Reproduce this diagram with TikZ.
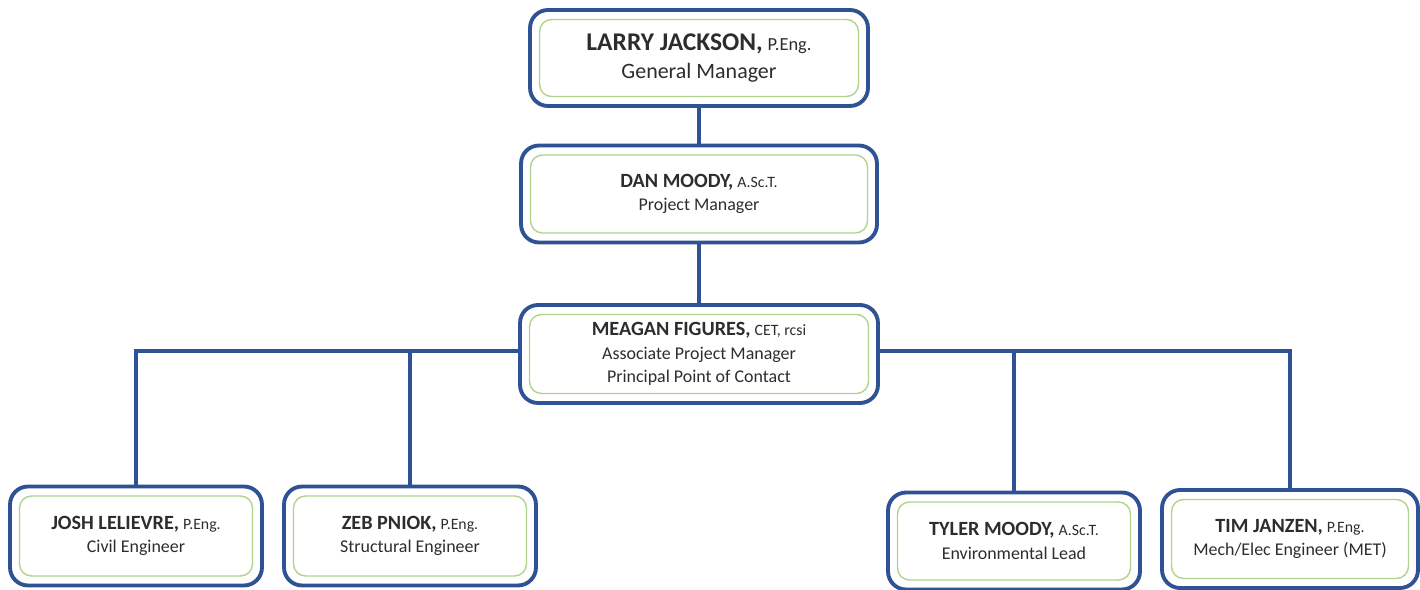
\documentclass[tikz,border=0pt]{standalone}
\usepackage{fontspec}
\setmainfont{Carlito}
\usepackage{tikz}
\usetikzlibrary{calc, positioning}
\definecolor{frameblue}{RGB}{47,82,148}
\definecolor{innergreen}{RGB}{176,212,140}
\definecolor{textgray}{RGB}{45,45,45}
\tikzset{
    staff/.style ={rectangle, rounded corners=0.36cm, draw=frameblue,
        line width=2.2pt, fill=white, text=textgray, align=center,
        font=\fontsize{10.2}{13.5}\selectfont,
        path picture={
            \draw[innergreen, line width=0.8pt, rounded corners=0.24cm]
                ($(path picture bounding box.south west)+(0.19cm,0.19cm)$)
                rectangle
                ($(path picture bounding box.north east)-(0.19cm,0.19cm)$);
        }},
    link/.style = {draw=frameblue, line width=2.2pt}
    }
\newcommand{\who}[2]{{\fontsize{11.5}{13.5}\selectfont\bfseries #1}
    {\fontsize{9}{13.5}\selectfont #2}}

\begin{document}
\begin{tikzpicture}[
      x = 0.02cm, y = -0.02cm % one unit = one pixel
    ]
    \useasboundingbox (0,0) rectangle (1420,590);

    \node[staff, minimum width=6.76cm, minimum height=1.92cm,
          font=\fontsize{12.5}{15.5}\selectfont] (larry) at (699, 58)
        {{\fontsize{14.5}{15.5}\selectfont\bfseries LARRY JACKSON,}
         {\fontsize{10.5}{15.5}\selectfont P.Eng.}\\General Manager};
    \node[staff, minimum width=7.12cm, minimum height=1.94cm] (dan) at (699, 194)
        {\who{DAN MOODY,}{A.Sc.T.}\\Project Manager};
    \node[staff, minimum width=7.16cm, minimum height=1.96cm] (meagan) at (699, 354)
        {\who{MEAGAN FIGURES,}{CET, rcsi}\\Associate Project Manager\\Principal Point of Contact};

    \node[staff, minimum width=5.04cm, minimum height=1.98cm] (josh) at (136, 536)
        {\who{JOSH LELIEVRE,}{P.Eng.}\\Civil Engineer};
    \node[staff, minimum width=5.04cm, minimum height=1.98cm] (zeb) at (410, 536)
        {\who{ZEB PNIOK,}{P.Eng.}\\Structural Engineer};
    \node[staff, minimum width=5.04cm, minimum height=1.94cm] (tyler) at (1014, 541)
        {\who{TYLER MOODY,}{A.Sc.T.}\\Environmental Lead};
    \node[staff, minimum width=5.12cm, minimum height=1.96cm] (tim) at (1290, 539)
        {\who{TIM JANZEN,}{P.Eng.}\\Mech/Elec Engineer (MET)};

    \path[link] (larry) -- (dan);
    \path[link] (dan) -- (meagan);
    \path[link] ([yshift=0.06cm]meagan.west) -| (josh.north);
    \path[link] ([yshift=0.06cm]meagan.west) -| (zeb.north);
    \path[link] ([yshift=0.06cm]meagan.east) -| (tyler.north);
    \path[link] ([yshift=0.06cm]meagan.east) -| (tim.north);
\end{tikzpicture}
\end{document}
